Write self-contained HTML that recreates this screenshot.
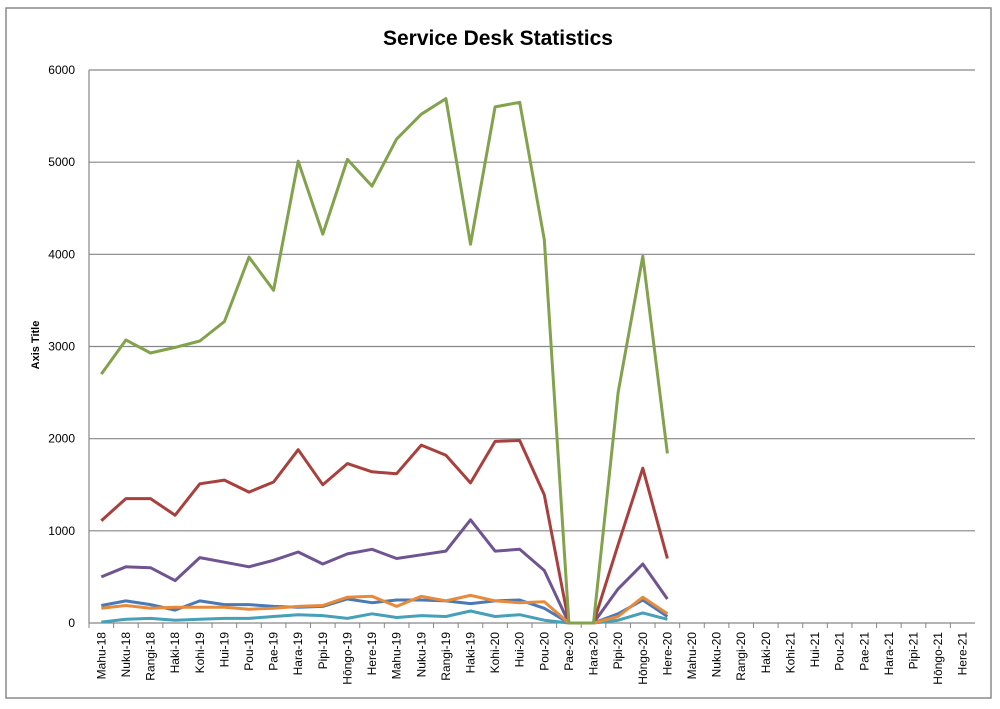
<!DOCTYPE html>
<html><head><meta charset="utf-8">
<style>
html,body{margin:0;padding:0;background:#fff;}
svg{display:block;font-family:"Liberation Sans",sans-serif;}
</style></head>
<body>
<svg id="c" width="1000" height="709" viewBox="0 0 1000 709" xmlns="http://www.w3.org/2000/svg">
<rect x="0" y="0" width="1000" height="709" fill="#fff"/>
<rect x="6" y="8" width="985" height="690" fill="none" stroke="#8a8a8a" stroke-width="1.5"/>
<text x="498" y="45" text-anchor="middle" font-size="21" font-weight="bold" fill="#000">Service Desk Statistics</text>
<text transform="translate(39,345) rotate(-90)" text-anchor="middle" font-size="11" font-weight="bold" fill="#000">Axis Title</text>
<g id="grid"></g>
<g id="series" fill="none" stroke-width="3" stroke-linejoin="round"></g>
<g id="xl" font-size="12" fill="#000"></g>
</svg>
<script>
var L=89,R=975,T=70,B=623,n=36,w=(R-L)/n;
var ns="http://www.w3.org/2000/svg";
function el(t,a,p,txt){var e=document.createElementNS(ns,t);for(var k in a)e.setAttribute(k,a[k]);if(txt!=null)e.textContent=txt;p.appendChild(e);return e;}
var g=document.getElementById('grid');
for(var v=0;v<=6000;v+=1000){var y=B-(B-T)*v/6000;
 el('line',{x1:L,x2:R,y1:y,y2:y,stroke:'#868686','stroke-width':1.2},g);
 el('text',{x:75,y:y+4,'text-anchor':'end','font-size':12,fill:'#000'},g,v);}
el('line',{x1:L,x2:L,y1:T,y2:B,stroke:'#868686','stroke-width':1.2},g);
var all=['Mahu-18','Nuku-18','Rangi-18','Haki-18'];
[19,20,21].forEach(function(yr){['Kohi','Hui','Pou','Pae','Hara','Pipi','Hōngo','Here','Mahu','Nuku','Rangi','Haki'].forEach(function(s){all.push(s+'-'+yr);});});
all=all.slice(0,36);
var xl=document.getElementById('xl');
all.forEach(function(s,i){var x=L+w*(i+0.5);
 el('line',{x1:x-w/2,x2:x-w/2,y1:B,y2:B+5,stroke:'#868686'},g);
 el('text',{transform:'translate('+(x+4)+',632) rotate(-90)','text-anchor':'end'},xl,s);});
var data=[
['#4a7ab5',[190,240,200,140,240,200,200,180,170,180,260,220,250,250,240,210,240,250,160,0,0,100,250,70]],
['#46a0b8',[10,40,50,30,40,50,50,70,90,80,50,100,60,80,70,130,70,90,30,0,0,30,110,40]],
['#6f5491',[500,610,600,460,710,660,610,680,770,640,750,800,700,740,780,1120,780,800,570,0,0,370,640,260]],
['#a9403d',[1110,1350,1350,1170,1510,1550,1420,1530,1880,1500,1730,1640,1620,1930,1820,1520,1970,1980,1390,0,0,850,1680,700]],
['#e88a3c',[160,190,160,170,170,170,150,160,180,190,280,290,180,290,240,300,240,220,230,0,0,70,280,100]],
['#82a24c',[2700,3070,2930,2990,3060,3270,3970,3610,5010,4220,5030,4740,5250,5520,5690,4110,5600,5650,4160,0,0,2500,3980,1840]]];
var sg=document.getElementById('series');
data.forEach(function(d){var p=d[1].map(function(v,i){return (L+w*(i+0.5)).toFixed(1)+','+(B-(B-T)*v/6000).toFixed(1)}).join(' ');
 el('polyline',{points:p,stroke:d[0]},sg);});
</script>
</body></html>
